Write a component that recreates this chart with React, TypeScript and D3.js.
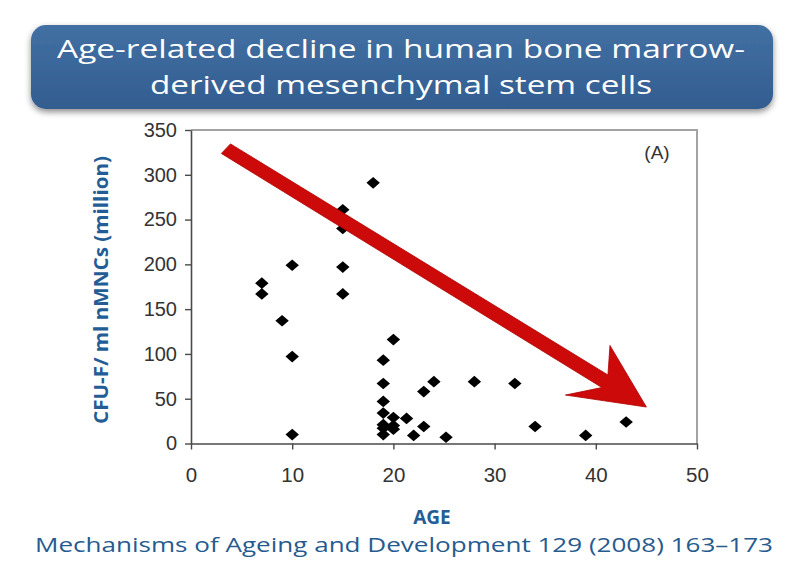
import React, { useRef, useEffect } from "react";
import * as d3 from "d3";

// CFU-F counts by donor age
const ages = [7, 7, 9, 10, 10, 10, 15, 15, 15, 15, 18, 20, 19, 19, 19, 19, 20, 21.3, 19, 20, 19, 22, 23, 23, 24, 25.2, 28, 32, 34, 39, 43, 19, 20];
const cfu = [179, 167, 137, 199, 97, 10, 261, 240, 197, 167, 291, 116, 93, 67, 47, 34, 29, 28, 17, 16, 10, 9, 19, 58, 69, 7, 69, 67, 19, 9, 24, 21, 20];

const xTicks = [0, 10, 20, 30, 40, 50];
const yTicks = [0, 50, 100, 150, 200, 250, 300, 350];

// trend arrow outline, in data units (age, cfu)
const arrowAge = [3.9, 41.2, 41.4, 45.0, 37.0, 40.6, 3.0];
const arrowCfu = [334.5, 76.5, 109.5, 40.7, 54.1, 62.5, 323.8];

const titleLines = ["Age-related decline in human bone marrow-", "derived mesenchymal stem cells"];
const citation = "Mechanisms of Ageing and Development 129 (2008) 163\u2013173";

const width = 800;
const height = 575;

// wide, flat diamond marker
const flatDiamond = {
  draw(context, size) {
    const w = Math.sqrt(size) * 0.6;
    const h = w * 0.87;
    context.moveTo(0, -h);
    context.lineTo(w, 0);
    context.lineTo(0, h);
    context.lineTo(-w, 0);
    context.closePath();
  },
};

export default function App() {
  const ref = useRef(null);

  useEffect(() => {
    const svg = d3.select(ref.current);
    svg.selectAll("*").remove();

    const x = d3.scaleLinear().domain([0, 50]).range([191, 697]);
    const y = d3.scaleLinear().domain([0, 350]).range([443.5, 130]);

    const defs = svg.append("defs");
    const shadow = defs.append("filter").attr("id", "boxShadow").attr("x", "-5%").attr("y", "-10%").attr("width", "110%").attr("height", "130%");
    shadow.append("feDropShadow").attr("dx", 0).attr("dy", 3).attr("stdDeviation", 3).attr("flood-color", "#000").attr("flood-opacity", 0.45);
    const grad = defs.append("linearGradient").attr("id", "boxFill").attr("x1", 0).attr("y1", 0).attr("x2", 0).attr("y2", 1);
    grad.append("stop").attr("offset", "0%").attr("stop-color", "#4270a3");
    grad.append("stop").attr("offset", "100%").attr("stop-color", "#335d90");

    // title banner
    svg
      .append("rect")
      .attr("x", 31)
      .attr("y", 25)
      .attr("width", 742)
      .attr("height", 84)
      .attr("rx", 15)
      .attr("fill", "url(#boxFill)")
      .attr("filter", "url(#boxShadow)");

    const lens = [688, 502];
    const baselines = [58, 94];
    titleLines.forEach((t, i) => {
      svg
        .append("text")
        .text(t)
        .attr("x", 401)
        .attr("y", baselines[i])
        .attr("text-anchor", "middle")
        .attr("textLength", lens[i])
        .attr("lengthAdjust", "spacingAndGlyphs")
        .style("font-family", "'Open Sans', sans-serif")
        .style("font-size", "25px")
        .style("fill", "#fff");
    });

    // plot frame (top and right, light grey)
    svg
      .append("path")
      .attr("d", `M${x(0)},${y(350)}H${x(50)}V${y(0)}`)
      .attr("fill", "none")
      .attr("stroke", "#a3a3a3")
      .attr("stroke-width", 2);

    const yAxis = svg
      .append("g")
      .attr("transform", `translate(${x(0)},0)`)
      .call(d3.axisLeft(y).tickValues(yTicks).tickSize(6).tickSizeOuter(0).tickPadding(8));

    const xAxis = svg
      .append("g")
      .attr("transform", `translate(0,${y(0)})`)
      .call(d3.axisBottom(x).tickValues(xTicks).tickSize(6).tickSizeOuter(0).tickPadding(18));

    [yAxis, xAxis].forEach((g) => {
      g.select(".domain").attr("stroke", "#4a4a4a").attr("stroke-width", 1.6);
      g.selectAll(".tick line").attr("stroke", "#4a4a4a").attr("stroke-width", 1.4);
      g.selectAll("text").style("font-family", "'Liberation Sans', Arial, sans-serif").style("fill", "#333");
    });
    yAxis.selectAll("text").style("font-size", "20px");
    xAxis.selectAll("text").style("font-size", "20.5px");

    // points
    const pts = ages.map((a, i) => ({ age: a, v: cfu[i] }));
    svg
      .append("g")
      .selectAll("path")
      .data(pts)
      .join("path")
      .attr("d", d3.symbol().type(flatDiamond).size(125))
      .attr("transform", (d) => `translate(${x(d.age)},${y(d.v)})`)
      .attr("fill", "#000");

    // red trend arrow
    const arrowPts = arrowAge.map((a, i) => [x(a), y(arrowCfu[i])]);
    svg
      .append("path")
      .attr("d", d3.line()(arrowPts) + "Z")
      .attr("fill", "#cc0a0a")
      .attr("stroke", "#b00000")
      .attr("stroke-width", 0.8)
      .attr("stroke-linejoin", "miter");

    svg
      .append("text")
      .text("(A)")
      .attr("x", 657)
      .attr("y", 159)
      .attr("text-anchor", "middle")
      .style("font-family", "'Liberation Sans', Arial, sans-serif")
      .style("font-size", "19px")
      .style("fill", "#333");

    // axis titles
    svg
      .append("text")
      .text("CFU-F/ ml nMNCs (million)")
      .attr("transform", "translate(108,290) rotate(-90)")
      .attr("text-anchor", "middle")
      .attr("textLength", 268)
      .attr("lengthAdjust", "spacingAndGlyphs")
      .style("font-family", "'Open Sans', sans-serif")
      .style("font-weight", 700)
      .style("font-size", "19px")
      .style("fill", "#235d96");

    svg
      .append("text")
      .text("AGE")
      .attr("x", 432)
      .attr("y", 524)
      .attr("text-anchor", "middle")
      .style("font-family", "'Open Sans', sans-serif")
      .style("font-weight", 700)
      .style("font-size", "19px")
      .style("fill", "#235d96");

    svg
      .append("text")
      .text(citation)
      .attr("x", 404)
      .attr("y", 552)
      .attr("text-anchor", "middle")
      .attr("textLength", 738)
      .attr("lengthAdjust", "spacingAndGlyphs")
      .style("font-family", "'Open Sans', sans-serif")
      .style("font-size", "20.5px")
      .style("fill", "#255b8f");
  }, []);

  return (
    <svg
      ref={ref}
      width={width}
      height={height}
      style={{ position: "absolute", left: 0, top: 0, background: "#fff" }}
    ></svg>
  );
}
